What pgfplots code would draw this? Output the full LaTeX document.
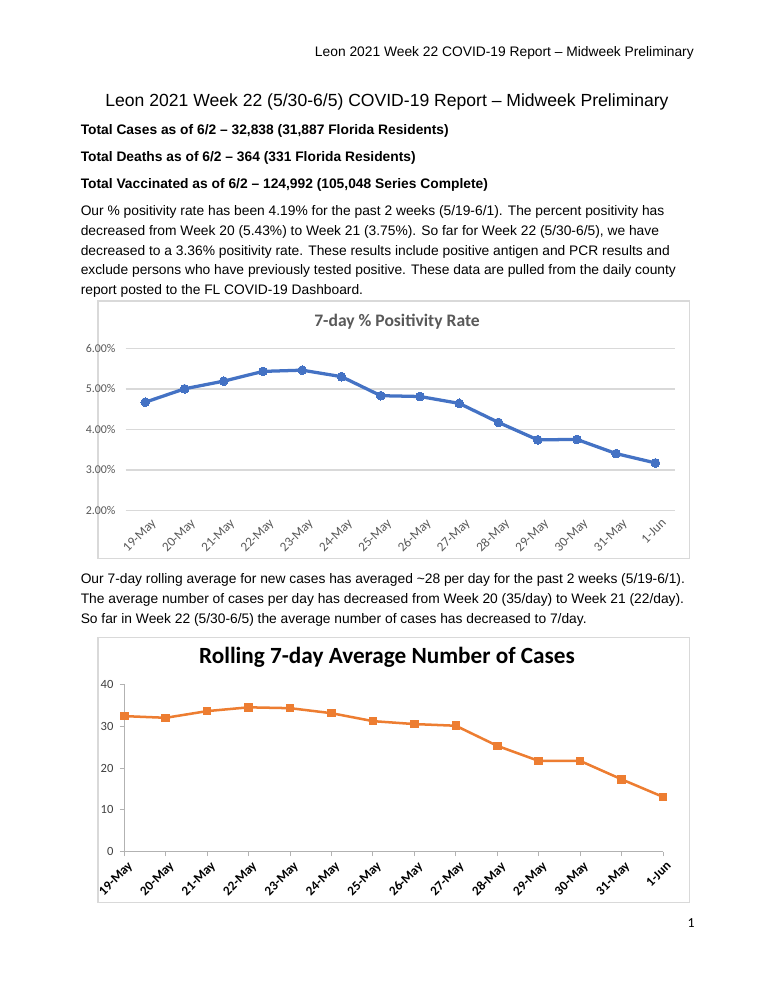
\documentclass[border=0pt]{standalone}
\usepackage{pgfplots}
\pgfplotsset{compat=1.18}
\usepackage{fontspec}
\setmainfont{Liberation Sans}
\newfontfamily\calibri{Carlito}
\definecolor{xlblue}{HTML}{4472C4}
\definecolor{xlorange}{HTML}{ED7D31}
\definecolor{xlgray}{HTML}{595959}
\definecolor{gridgray}{HTML}{D9D9D9}
\definecolor{boxgray}{HTML}{D9D9D9}
\def\u{0.796875pt}
\begin{document}
\begin{tikzpicture}[x=0.796875pt,y=-0.796875pt]
\path[fill=white] (0,0) rectangle (768,994);
% header
\node[anchor=base east,inner sep=0,font=\fontsize{11}{13}\selectfont] at (694,57) {Leon 2021 Week 22 COVID-19 Report -- Midweek Preliminary};
\node[anchor=base,inner sep=0,font=\fontsize{14}{16}\selectfont] at (387,106.5) {Leon 2021 Week 22 (5/30-6/5) COVID-19 Report -- Midweek Preliminary};
\begin{scope}[every node/.style={anchor=base west,inner sep=0,font=\fontsize{11}{13}\selectfont\bfseries}]
\node at (80.5,135) {Total Cases as of 6/2 -- 32,838 (31,887 Florida Residents)};
\node at (80.5,161.5) {Total Deaths as of 6/2 -- 364 (331 Florida Residents)};
\node at (80.5,188.5) {Total Vaccinated as of 6/2 -- 124,992 (105,048 Series Complete)};
\end{scope}
\begin{scope}[every node/.style={anchor=base west,inner sep=0,font=\fontsize{11}{13}\selectfont}]
\node at (80.5,215.5) {Our \% positivity rate has been 4.19\% for the past 2 weeks (5/19-6/1). The percent positivity has};
\node at (80.5,235.3) {decreased from Week 20 (5.43\%) to Week 21 (3.75\%). So far for Week 22 (5/30-6/5), we have};
\node at (80.5,255.1) {decreased to a 3.36\% positivity rate. These results include positive antigen and PCR results and};
\node at (80.5,274.9) {exclude persons who have previously tested positive. These data are pulled from the daily county};
\node at (80.5,294.7) {report posted to the FL COVID-19 Dashboard.};
\node at (80.5,583) {Our 7-day rolling average for new cases has averaged \textasciitilde28 per day for the past 2 weeks (5/19-6/1).};
\node at (80.5,603.2) {The average number of cases per day has decreased from Week 20 (35/day) to Week 21 (22/day).};
\node at (80.5,623.4) {So far in Week 22 (5/30-6/5) the average number of cases has decreased to 7/day.};
\end{scope}
% chart boxes
\draw[boxgray,line width=0.8pt] (98,301) rectangle (689,558);
\draw[boxgray,line width=0.8pt] (98,637) rectangle (689,902);
\node[font=\calibri\fontsize{14}{16}\selectfont\bfseries,text=xlgray] at (397,322) {7-day \% Positivity Rate};
\node[font=\calibri\fontsize{18.5}{20}\selectfont\bfseries,text=black] at (387,657) {Rolling 7-day Average Number of Cases};
\node[font=\calibri\fontsize{11}{13}\selectfont,anchor=base] at (691,927) {1};
% chart 1
\begin{axis}[
  at={({125.7*\u},{-510.3*\u})}, anchor=south west,
  scale only axis, width={549.3*\u}, height={162*\u},
  xmin=-0.5, xmax=13.5, ymin=2, ymax=6,
  axis line style={draw=none},
  /pgf/number format/assume math mode=true,
  ytick={2,3,4,5,6}, yticklabels={2.00\%,3.00\%,4.00\%,5.00\%,6.00\%},
  xtick={0,...,13},
  xticklabels={19-May,20-May,21-May,22-May,23-May,24-May,25-May,26-May,27-May,28-May,29-May,30-May,31-May,1-Jun},
  major tick length=0pt,
  ymajorgrids, grid style={gridgray,line width=1.2pt},
  tick label style={font=\calibri\fontsize{9.5}{11}\selectfont,text=xlgray},
  xticklabel style={rotate=45,anchor=north east,inner sep=1pt,yshift=-6pt,font=\calibri\fontsize{10.5}{12}\selectfont},
  yticklabel style={inner sep=1pt,xshift=-7pt},
  clip=false,
]
\addplot[xlblue,line width=2.6pt,mark=*,mark size=3.5pt,mark options={fill=xlblue,draw=xlblue,line width=0pt}] coordinates {
(0,4.67) (1,5.00) (2,5.19) (3,5.43) (4,5.46) (5,5.30) (6,4.83) (7,4.81) (8,4.64) (9,4.17) (10,3.74) (11,3.75) (12,3.40) (13,3.17)};
\end{axis}
% chart 2
\begin{axis}[
  at={({124.3*\u},{-851.7*\u})}, anchor=south west,
  scale only axis, width={538.7*\u}, height={167.4*\u},
  xmin=0, xmax=13, ymin=0, ymax=40,
  axis x line=bottom, axis y line=left,
  axis line style={-,draw=black!30,line width=0.8pt},
  /pgf/number format/assume math mode=true,
  ytick={0,10,20,30,40},
  xtick={0,...,13},
  xticklabels={19-May,20-May,21-May,22-May,23-May,24-May,25-May,26-May,27-May,28-May,29-May,30-May,31-May,1-Jun},
  tick align=outside, major tick length=3.5pt,
  tick style={draw=black!30,line width=0.8pt},
  tick label style={font=\calibri\fontsize{10}{11}\selectfont,text=black!75},
  xticklabel style={rotate=45,anchor=north east,inner sep=1pt,yshift=-3pt,font=\calibri\fontsize{10.5}{12}\selectfont\bfseries,text=black},
  yticklabel style={inner sep=1pt,xshift=-4pt},
  clip=false,
]
\addplot[xlorange,line width=2pt,mark=square*,mark size=3pt,mark options={fill=xlorange,draw=xlorange,line width=0pt}] coordinates {
(0,32.4) (1,32.0) (2,33.6) (3,34.5) (4,34.3) (5,33.1) (6,31.2) (7,30.5) (8,30.1) (9,25.3) (10,21.7) (11,21.7) (12,17.3) (13,13.1)};
\end{axis}
\end{tikzpicture}
\end{document}
